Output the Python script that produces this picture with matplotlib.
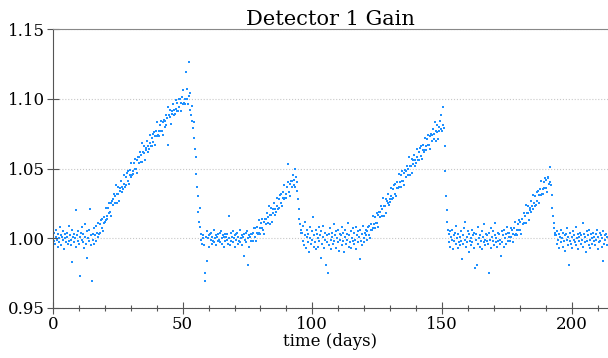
import numpy as np
import matplotlib
matplotlib.use('Agg')
import matplotlib.pyplot as plt
from matplotlib.ticker import MultipleLocator, FormatStrFormatter

plt.rcParams['font.family'] = ['DejaVu Serif']

# gain readings, 4 per day
# (start day, end day, values)
flat1 = [1.002, 0.998, 1.004, 0.996, 1.001, 1.006, 0.999, 0.994, 1.003, 1.000, 0.997, 1.008, 1.002, 0.995, 1.001, 0.999, 1.005, 0.992, 1.000, 1.003,
         0.997, 1.004, 1.001, 0.996, 1.009, 0.998, 1.002, 0.995, 0.999, 1.006, 0.983, 1.001, 0.997, 1.003, 1.000, 0.994, 1.020, 1.002, 0.998, 1.005,
         0.996, 1.001, 0.973, 1.004, 0.999, 1.008, 0.997, 1.003, 0.993, 1.010, 1.001, 0.996, 0.986, 1.005, 1.000, 0.998, 1.006, 1.021, 0.995, 1.002,
         0.969, 1.003, 0.999, 1.007, 0.996, 1.002, 1.009, 0.998, 1.004, 1.001, 1.011, 1.003]
ramp1 = [1.010, 1.004, 1.013, 1.007, 1.014, 1.005, 1.011, 1.015, 1.012, 1.022, 1.013, 1.016, 1.014, 1.022, 1.018, 1.025,
         1.019, 1.025, 1.016, 1.027, 1.028, 1.024, 1.032, 1.025, 1.030, 1.038, 1.025, 1.032, 1.032, 1.037, 1.027, 1.036,
         1.034, 1.041, 1.033, 1.037, 1.035, 1.045, 1.039, 1.037, 1.044, 1.038, 1.047, 1.041, 1.048, 1.039, 1.045, 1.049,
         1.044, 1.054, 1.045, 1.048, 1.046, 1.054, 1.050, 1.057, 1.050, 1.056, 1.047, 1.058, 1.058, 1.054, 1.062, 1.055,
         1.060, 1.068, 1.055, 1.062, 1.061, 1.066, 1.056, 1.065, 1.063, 1.070, 1.062, 1.066, 1.064, 1.074, 1.068, 1.066,
         1.072, 1.066, 1.075, 1.069, 1.076, 1.067, 1.073, 1.077, 1.073, 1.083, 1.074, 1.077, 1.073, 1.081, 1.077, 1.084,
         1.077, 1.083, 1.074, 1.085, 1.084, 1.080, 1.088, 1.081, 1.086, 1.094, 1.067, 1.088, 1.087, 1.092, 1.082, 1.091,
         1.089, 1.096, 1.088, 1.092, 1.089, 1.099, 1.093, 1.091, 1.097, 1.091, 1.100, 1.094, 1.100, 1.091, 1.097, 1.101,
         1.096, 1.106, 1.097, 1.100, 1.096, 1.119, 1.100, 1.107, 1.096, 1.102, 1.126, 1.104]
drop1 = [1.092, 1.088, 1.095, 1.084, 1.079, 1.072, 1.083, 1.064, 1.058, 1.046, 1.037, 1.030, 1.019, 1.012, 1.022, 1.008]
flat2 = [0.999, 1.003, 0.996, 1.002, 1.000, 0.995, 0.969, 0.975, 1.001, 1.005, 0.984, 1.000, 0.994, 1.002, 1.003, 0.999, 1.004, 0.996, 1.001, 0.998,
         1.006, 0.997, 1.000, 1.002, 0.995, 1.001, 1.003, 0.998, 0.999, 1.004, 0.997, 1.005, 0.996, 1.000, 1.002, 0.994, 1.001, 1.003, 0.998, 1.001,
         0.999, 1.003, 0.996, 1.016, 1.000, 0.995, 1.004, 0.998, 1.001, 1.005, 0.997, 1.000, 0.994, 1.002, 1.003, 0.999, 1.004, 0.996, 1.001, 0.998,
         1.006, 0.997, 1.000, 1.002, 0.995, 1.001, 1.003, 0.987, 0.999, 1.004, 0.997, 1.005, 0.981, 1.000, 1.002, 0.994, 1.001, 1.003, 0.998, 1.003]
ramp2 = [1.004, 0.998, 1.007, 1.001, 1.007, 0.998, 1.004, 1.008, 1.003, 1.013, 1.004, 1.007, 1.003, 1.011, 1.007, 1.014,
         1.006, 1.012, 1.003, 1.014, 1.014, 1.010, 1.018, 1.011, 1.015, 1.023, 1.010, 1.017, 1.017, 1.022, 1.012, 1.021,
         1.018, 1.025, 1.017, 1.021, 1.019, 1.029, 1.023, 1.021, 1.028, 1.022, 1.031, 1.025, 1.032, 1.023, 1.029, 1.033,
         1.028, 1.038, 1.029, 1.032, 1.029, 1.037, 1.053, 1.040, 1.033, 1.039, 1.030, 1.041, 1.041, 1.037, 1.045, 1.038,
         1.042, 1.050, 1.037, 1.044]
drop2 = [1.040, 1.034, 1.028, 1.021, 1.014, 1.010, 1.006, 1.004]
flat3 = [1.004, 0.998, 1.009, 0.995, 1.002, 1.012, 0.993, 1.001, 1.006, 0.997, 1.003, 0.990, 1.008, 1.000, 0.996, 1.005, 0.999, 1.015, 0.994, 1.002,
         0.997, 1.006, 0.992, 1.003, 1.000, 0.994, 1.008, 0.998, 1.002, 0.986, 1.005, 0.996, 1.001, 1.009, 0.993, 0.999, 1.004, 0.981, 1.002, 0.997,
         0.975, 1.003, 0.995, 1.007, 0.999, 0.992, 1.004, 1.001, 0.996, 1.010, 0.998, 1.002, 0.993, 1.005, 1.000, 0.997, 1.006, 0.991, 1.003, 0.999,
         1.002, 0.995, 1.008, 0.998, 1.004, 0.990, 1.001, 1.006, 0.996, 1.003, 0.999, 1.011, 0.994, 1.002, 0.997, 1.005, 0.993, 1.000, 1.007, 0.998,
         0.996, 1.004, 0.999, 1.008, 0.992, 1.002, 1.005, 0.997, 1.001, 0.985, 1.006, 0.998, 1.003, 0.995, 1.009, 1.000, 0.997, 1.004, 1.002, 1.006]
ramp3 = [1.005, 0.999, 1.008, 1.002, 1.009, 1.000, 1.006, 1.010, 1.006, 1.016, 1.007, 1.010, 1.007, 1.015, 1.011, 1.018,
         1.011, 1.017, 1.008, 1.019, 1.019, 1.015, 1.023, 1.016, 1.021, 1.029, 1.016, 1.023, 1.023, 1.028, 1.018, 1.027,
         1.025, 1.032, 1.024, 1.028, 1.026, 1.036, 1.030, 1.028, 1.035, 1.029, 1.038, 1.032, 1.039, 1.030, 1.036, 1.040,
         1.036, 1.046, 1.037, 1.040, 1.037, 1.045, 1.041, 1.048, 1.041, 1.047, 1.038, 1.049, 1.048, 1.044, 1.052, 1.045,
         1.050, 1.058, 1.045, 1.052, 1.052, 1.057, 1.047, 1.056, 1.053, 1.060, 1.052, 1.056, 1.054, 1.064, 1.058, 1.056,
         1.062, 1.056, 1.065, 1.059, 1.066, 1.057, 1.063, 1.067, 1.062, 1.072, 1.063, 1.066, 1.063, 1.071, 1.067, 1.074,
         1.067, 1.073, 1.064, 1.075, 1.074, 1.070, 1.078, 1.071, 1.075, 1.083, 1.070, 1.077, 1.076, 1.081, 1.071, 1.080,
         1.077, 1.084, 1.078, 1.088, 1.077, 1.094, 1.081, 1.079]
drop3 = [1.066, 1.048, 1.030, 1.020, 1.012, 1.006]
flat4 = [1.003, 0.997, 1.005, 0.994, 1.001, 0.999, 1.006, 0.992, 1.002, 0.998, 1.004, 0.996, 1.009, 1.000, 0.993, 1.003, 0.997, 1.001, 0.995, 1.005,
         0.998, 0.985, 1.002, 0.996, 1.007, 0.999, 1.012, 0.994, 1.001, 0.997, 1.005, 0.990, 1.003, 0.998, 1.000, 0.995, 1.006, 0.997, 1.002, 0.993,
         1.004, 0.979, 0.999, 1.003, 0.981, 0.996, 1.008, 1.000, 0.994, 1.002, 0.998, 1.005, 0.992, 1.001, 0.997, 1.010, 0.999, 0.995, 1.003, 0.998,
         1.002, 0.996, 0.975, 1.004, 0.999, 1.007, 0.993, 1.001, 0.998, 1.005, 0.995, 1.002, 1.011, 0.997, 1.000, 0.994, 1.004, 0.998, 1.003, 0.996,
         0.999, 0.987, 1.005, 0.997, 1.002, 0.994, 1.006, 1.000, 0.996, 1.003, 1.008, 0.998, 1.004, 1.001]
ramp4 = [1.004, 0.998, 1.007, 1.001, 1.006, 0.997, 1.003, 1.007, 1.002, 1.012, 1.003, 1.006, 1.002, 1.010, 1.006, 1.013,
         1.006, 1.012, 1.003, 1.014, 1.014, 1.010, 1.018, 1.011, 1.016, 1.024, 1.011, 1.018, 1.018, 1.023, 1.013, 1.022,
         1.020, 1.027, 1.019, 1.023, 1.021, 1.031, 1.025, 1.023, 1.030, 1.024, 1.033, 1.027, 1.034, 1.025, 1.031, 1.035,
         1.031, 1.041, 1.032, 1.035, 1.032, 1.040, 1.036, 1.043, 1.036, 1.042, 1.033, 1.044, 1.043, 1.039, 1.051, 1.040]
drop4 = [1.038, 1.031, 1.022, 1.016, 1.011, 1.007, 1.004, 1.002]
flat5 = [1.002, 0.996, 1.005, 0.999, 1.003, 0.993, 1.001, 1.006, 0.997, 1.000, 0.994, 1.004, 0.998, 1.002, 0.991, 1.003, 0.999, 1.007, 0.995, 1.001,
         0.981, 0.998, 1.004, 0.996, 1.001, 0.993, 1.005, 0.999, 1.002, 0.997, 1.008, 0.995, 1.000, 1.003, 0.992, 1.001, 0.998, 1.004, 0.996, 1.002,
         0.999, 1.011, 0.994, 1.003, 0.997, 1.001, 0.990, 1.005, 0.998, 1.002, 0.995, 1.006, 0.999, 0.993, 1.003, 1.000, 0.996, 1.004, 0.998, 1.001,
         0.995, 1.003, 0.999, 1.006, 0.992, 1.001, 0.997, 1.004, 0.998, 1.002, 0.994, 1.000, 0.984, 1.005, 0.996, 1.002, 0.999, 1.003, 0.995, 1.001]

segments = [(0, 18, flat1), (18, 53, ramp1), (53, 57, drop1), (57, 77, flat2),
            (77, 94, ramp2), (94, 96, drop2), (96, 121, flat3), (121, 151, ramp3),
            (151, 152.5, drop3), (152.5, 176, flat4), (176, 192, ramp4),
            (192, 194, drop4), (194, 214, flat5)]

days = np.concatenate([np.linspace(a, b, len(v), endpoint=False) for a, b, v in segments])
gain = np.concatenate([v for a, b, v in segments])

fig = plt.figure(figsize=(6.08, 3.58), dpi=100)
ax = fig.add_axes([53 / 608, 1 - 308 / 358, 555 / 608, 279 / 358])

ax.plot(days, gain, linestyle='none', marker='s', ms=1.9, mew=0, color='#1e90ff')

ax.set_xlim(0, 214)
ax.set_ylim(0.95, 1.15)
ax.xaxis.set_major_locator(MultipleLocator(50))
ax.xaxis.set_minor_locator(MultipleLocator(10))
ax.yaxis.set_major_locator(MultipleLocator(0.05))
ax.yaxis.set_major_formatter(FormatStrFormatter('%.2f'))

ax.tick_params(which='major', direction='inout', length=8, width=0.8, color='#555555', labelsize=12, pad=2)
ax.tick_params(which='minor', direction='inout', length=4, width=0.8, color='#555555')
ax.tick_params(axis='y', which='minor', left=False)

ax.grid(axis='y', linestyle=':', color='#c8c8c8', linewidth=0.8)
ax.set_axisbelow(True)

for s in ['left', 'bottom']:
    ax.spines[s].set_color('#555555')
ax.spines['top'].set_color('#888888')
ax.spines['right'].set_visible(False)

ax.set_title('Detector 1 Gain', fontsize=15, pad=2)
ax.set_xlabel('time (days)', fontsize=12, labelpad=0)

fig.savefig('out.png', dpi=100)
